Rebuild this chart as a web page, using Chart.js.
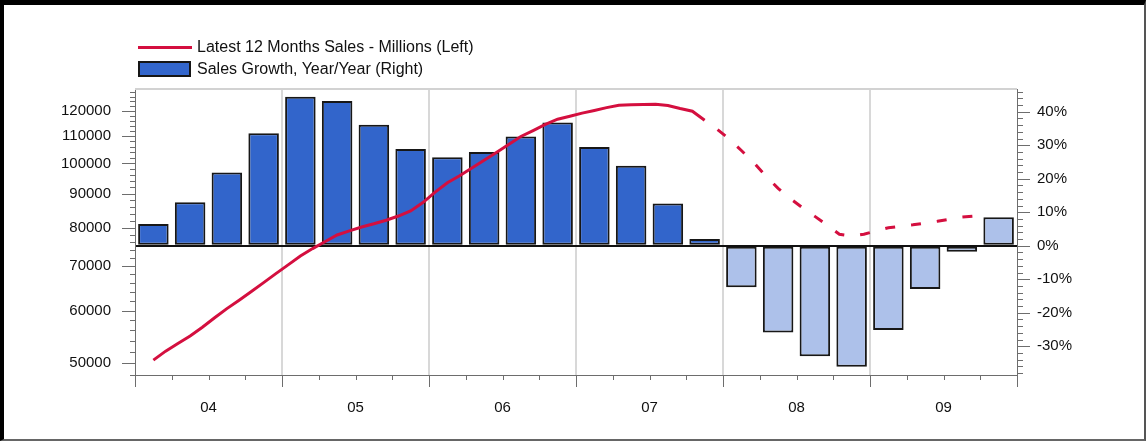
<!DOCTYPE html>
<html>
<head>
<meta charset="utf-8">
<script src="https://cdn.jsdelivr.net/npm/chart.js@4/dist/chart.umd.min.js"></script>
<style>
  body { margin: 0; background: #fff; }
  #wrap { position: relative; width: 1146px; height: 442px; font-family: "Liberation Sans", Arial, sans-serif; }
  #frame { position: absolute; left: 0; top: 0; width: 1146px; height: 441px; box-sizing: border-box;
           border-top: 5px solid #000; border-left: 4px solid #000; border-right: 2px solid #555; border-bottom: 2px solid #666; pointer-events: none; }
  .lg { position: absolute; left: 197px; font-size: 16px; color: #111; line-height: 18px; white-space: nowrap; }
  .lg-line { position: absolute; left: 138px; top: 46px; width: 54px; height: 3px; background: #d40f3f; }
  .lg-box { position: absolute; left: 138px; top: 61px; width: 53px; height: 16px; box-sizing: border-box; background: #3366cc; border: 2px solid #161616; }
</style>
</head>
<body>
<div id="wrap">
  <canvas id="chart"></canvas>
  <div class="lg-line"></div><div class="lg" style="top:38px">Latest 12 Months Sales - Millions (Left)</div>
  <div class="lg-box"></div><div class="lg" style="top:60px">Sales Growth, Year/Year (Right)</div>
  <div id="frame"></div>
</div>
<script>
// ─── DATA ─────────────────────────────────────────────────
const years = ['04', '05', '06', '07', '08', '09'];
const quarters = [
    '2004Q1','2004Q2','2004Q3','2004Q4','2005Q1','2005Q2','2005Q3','2005Q4',
    '2006Q1','2006Q2','2006Q3','2006Q4','2007Q1','2007Q2','2007Q3','2007Q4',
    '2008Q1','2008Q2','2008Q3','2008Q4','2009Q1','2009Q2','2009Q3','2009Q4'
];
// year/year growth, % (right axis)
const growth = [6.5, 13.0, 21.9, 33.6, 44.5, 43.2, 36.1, 28.9,
                26.4, 28.0, 32.6, 36.8, 29.5, 23.9, 12.6, 2.0,
                -12.4, -25.9, -33.0, -36.1, -25.2, -12.9, -1.8, 8.5];
const growthEstimateFrom = '2008Q1';

// latest 12 months sales, millions (left axis), monthly from Feb 2004
const salesStart = '2004-02';
const sales = [
    50500, 52100, 53500, 54900, 56600, 58500, 60400, 62200, 64100, 66100, 68200,
    70300, 72500, 74400, 76200, 78000, 79100, 80200, 81100, 82100, 83300, 84800, 87300,
    90500, 93500, 95800, 98400, 101100, 103900, 106800, 109800, 112100, 114500, 116600, 117800,
    119100, 120200, 121400, 122400, 122600, 122700, 122800, 122300, 121000, 119900, 116200,
    112700, 108900, 104600, 100300, 95700, 91700, 88500, 85700, 83200, 80700, 78200, 77700,
    78200, 79100, 80000, 80400, 80800, 81300, 81800, 82400, 83000, 83300, 83700
];
const salesEstimateFrom = '2007-11';

const leftTicks = [50000, 60000, 70000, 80000, 90000, 100000, 110000, 120000];
const rightTicks = [-30, -20, -10, 0, 10, 20, 30, 40];

// ─── HELPERS ──────────────────────────────────────────────
const firstYear = 2000 + Number(years[0]);
const lastYear = 2000 + Number(years[years.length - 1]) + 1;
const quarterX = q => Number(q.slice(0, 4)) + (Number(q.slice(5)) - 0.5) / 4;
const monthX = m => Number(m.slice(0, 4)) + (Number(m.slice(5)) - 0.5) / 12;
const monthAt = i => {
    const n = Number(salesStart.slice(0, 4)) * 12 + Number(salesStart.slice(5)) - 1 + i;
    return Math.floor(n / 12) + '-' + String(n % 12 + 1).padStart(2, '0');
};
const estQ = quarters.indexOf(growthEstimateFrom);
const estM = sales.findIndex((v, i) => monthAt(i) === salesEstimateFrom);

const barData = growth.map((v, i) => ({ x: quarterX(quarters[i]), y: v }));
const linePoints = sales.map((v, i) => ({ x: monthX(monthAt(i)), y: v }));
const actualData = linePoints.slice(0, estM + 1);
const estimateData = linePoints.slice(estM);

const FONT = { family: 'Liberation Sans, Arial, sans-serif', size: 15 };
const AXIS = '#6d6d6d';
const RED = '#d40f3f';

// tick marks (long on labelled values, short on minor ones) + light top border
const tickMarks = {
    id: 'tickMarks',
    afterDraw(chart) {
        const { ctx, chartArea: a, scales } = chart;
        ctx.save();
        ctx.strokeStyle = '#d2d2d2';
        ctx.lineWidth = 2;
        ctx.beginPath();
        ctx.moveTo(a.left, a.top); ctx.lineTo(a.right, a.top);
        ctx.stroke();

        ctx.strokeStyle = AXIS;
        ctx.lineWidth = 1;
        ctx.beginPath();
        scales.x.ticks.forEach(t => {
            const px = Math.round(scales.x.getPixelForValue(t.value)) + 0.5;
            const len = Number.isInteger(t.value) ? 12 : 5;
            ctx.moveTo(px, a.bottom); ctx.lineTo(px, a.bottom + len);
        });
        scales.y.ticks.forEach(t => {
            const py = Math.round(scales.y.getPixelForValue(t.value)) + 0.5;
            const len = leftTicks.includes(t.value) ? 13 : 5;
            ctx.moveTo(a.left - len, py); ctx.lineTo(a.left, py);
        });
        scales.y1.ticks.forEach(t => {
            const py = Math.round(scales.y1.getPixelForValue(t.value)) + 0.5;
            const len = rightTicks.includes(t.value) ? 13 : 6;
            ctx.moveTo(a.right, py); ctx.lineTo(a.right + len, py);
        });
        ctx.stroke();
        ctx.restore();
    }
};

new Chart(document.getElementById('chart'), {
    type: 'bar',
    data: {
        datasets: [{
            type: 'line',
            data: actualData,
            yAxisID: 'y',
            borderColor: RED,
            borderWidth: 3,
            pointRadius: 0,
            tension: 0,
            order: 0,
        }, {
            type: 'line',
            data: estimateData,
            yAxisID: 'y',
            borderColor: RED,
            borderWidth: 3,
            borderDash: [10, 16],
            borderDashOffset: 10,
            pointRadius: 0,
            tension: 0,
            order: 0,
        }, {
            type: 'bar',
            data: barData,
            yAxisID: 'y1',
            backgroundColor: growth.map((v, i) => i >= estQ ? '#adc1ea' : '#3265cb'),
            borderColor: '#171717',
            borderWidth: 2,
            borderSkipped: false,
            barPercentage: 0.83,
            categoryPercentage: 1,
            order: 1,
        }]
    },
    plugins: [tickMarks],
    options: {
        responsive: true, maintainAspectRatio: false, animation: false,
        layout: { padding: { top: 89, left: 0, right: 0, bottom: 0 } },
        plugins: { legend: { display: false }, tooltip: { enabled: false } },
        scales: {
            x: {
                type: 'linear', offset: false, min: firstYear, max: lastYear,
                afterBuildTicks: s => {
                    const t = [];
                    for (let v = firstYear; v <= lastYear; v += 0.25) t.push({ value: v });
                    s.ticks = t;
                },
                afterFit: s => { s.height = 67; },
                grid: {
                    offset: false, drawTicks: false, lineWidth: 2,
                    color: c => c.tick && Number.isInteger(c.tick.value) && c.tick.value > firstYear && c.tick.value < lastYear ? '#d8d8d8' : 'rgba(0,0,0,0)',
                },
                border: { color: AXIS, width: 1 },
                ticks: {
                    autoSkip: false, maxRotation: 0, padding: 24, color: '#111', font: FONT,
                    callback: v => (v % 1 === 0.5) ? years[Math.floor(v) - firstYear] : '',
                },
            },
            y: {
                type: 'logarithmic', position: 'left', min: 47960, max: 129500,
                afterBuildTicks: s => {
                    const t = [];
                    for (let v = 48000; v <= 128000; v += 2000) t.push({ value: v });
                    s.ticks = t;
                },
                afterFit: s => { s.width = 135; },
                grid: { display: false, drawTicks: false },
                border: { color: AXIS, width: 1 },
                ticks: {
                    autoSkip: false, padding: 24, color: '#111', font: FONT,
                    callback: v => leftTicks.includes(v) ? String(v) : '',
                },
            },
            y1: {
                type: 'linear', position: 'right', min: -38.6, max: 46.8,
                afterBuildTicks: s => {
                    const t = [];
                    for (let v = -38; v <= 46; v += 2) t.push({ value: v });
                    s.ticks = t;
                },
                afterFit: s => { s.width = 129; },
                grid: {
                    drawTicks: false, lineWidth: 2,
                    color: c => c.tick && c.tick.value === 0 ? '#111' : 'rgba(0,0,0,0)',
                },
                border: { color: AXIS, width: 1 },
                ticks: {
                    autoSkip: false, padding: 20, color: '#111', font: FONT,
                    callback: v => rightTicks.includes(v) ? v + '%' : '',
                },
            },
        }
    }
});
</script>
</body>
</html>
